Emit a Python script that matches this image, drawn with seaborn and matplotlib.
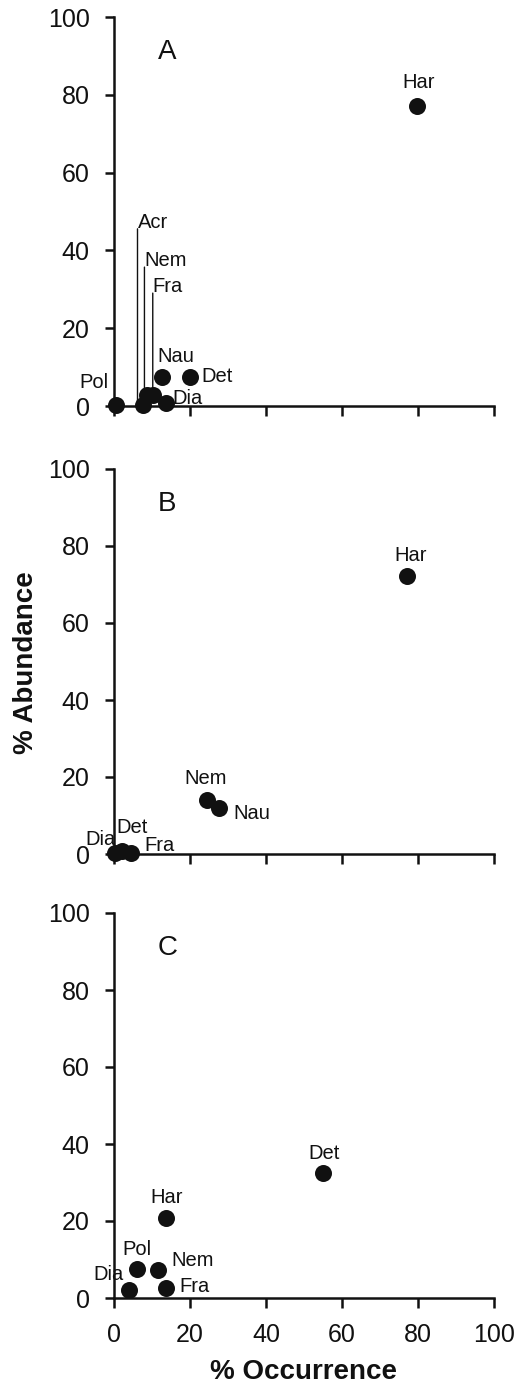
import matplotlib
matplotlib.use("Agg")
import matplotlib.pyplot as plt
from matplotlib.transforms import offset_copy
import seaborn as sns
import pandas as pd

# ---------------- data ----------------
A_labels = ["Har", "Pol", "Acr", "Nem", "Fra", "Nau", "Det", "Dia"]
A_occ = [79.7, 0.5, 7.5, 8.8, 10.2, 12.7, 20.0, 13.7]
A_abd = [77.0, 0.2, 0.3, 2.8, 2.8, 7.5, 7.5, 0.8]

B_labels = ["Har", "Nem", "Nau", "Dia", "Det", "Fra"]
B_occ = [77.2, 24.4, 27.5, 0.3, 2.0, 4.5]
B_abd = [72.1, 13.9, 11.9, 0.2, 0.8, 0.2]

C_labels = ["Det", "Har", "Pol", "Nem", "Dia", "Fra"]
C_occ = [54.9, 13.7, 6.0, 11.7, 3.9, 13.7]
C_abd = [32.4, 20.9, 7.6, 7.4, 2.0, 2.6]

panel_names = ["A", "B", "C"]
ticks = [0, 20, 40, 60, 80, 100]

# ---------------- label placement (styles, pixels) ----------------
# (dx, dy, ha, va, leader_line)
A_place = {
    "Har": (2, 18, "center", "baseline", False),
    "Pol": (-7, 17, "right", "baseline", False),
    "Acr": (-5, 177, "left", "baseline", True),
    "Nem": (-3, 129, "left", "baseline", True),
    "Fra": (0, 103, "left", "baseline", True),
    "Nau": (-5, 15, "left", "baseline", False),
    "Det": (11, 2, "left", "center_baseline", False),
    "Dia": (6, 6, "left", "center_baseline", False),
}
B_place = {
    "Har": (3, 15, "center", "baseline", False),
    "Nem": (-1, 16, "center", "baseline", False),
    "Nau": (15, -3, "left", "center_baseline", False),
    "Dia": (0, 16, "right", "center_baseline", False),
    "Det": (-5, 25, "left", "center_baseline", False),
    "Fra": (13, 10, "left", "center_baseline", False),
}
C_place = {
    "Det": (1, 14, "center", "baseline", False),
    "Har": (1, 15, "center", "baseline", False),
    "Pol": (0, 14, "center", "baseline", False),
    "Nem": (13, 11, "left", "center_baseline", False),
    "Dia": (-5, 18, "right", "center_baseline", False),
    "Fra": (13, 3, "left", "center_baseline", False),
}

sns.set_style("ticks")
plt.rcParams["font.family"] = ["Liberation Sans", "DejaVu Sans"]

W, H = 529, 1384
fig = plt.figure(figsize=(W / 100, H / 100), dpi=100)

# axes boxes in pixels: (left, top, right, bottom)
boxes = [(114, 17, 494, 406), (114, 469, 494, 854), (114, 913, 494, 1298)]

panels = [
    (A_labels, A_occ, A_abd, A_place),
    (B_labels, B_occ, B_abd, B_place),
    (C_labels, C_occ, C_abd, C_place),
]

for i, ((labs, occ, abd, place), (l, t, r, b)) in enumerate(zip(panels, boxes)):
    ax = fig.add_axes([l / W, 1 - b / H, (r - l) / W, (b - t) / H])
    df = pd.DataFrame({"occ": occ, "abd": abd, "lab": labs})
    sns.scatterplot(data=df, x="occ", y="abd", ax=ax, s=150, color="#111111",
                    edgecolor="#111111", linewidth=0, clip_on=False, zorder=5,
                    legend=False)
    ax.set_xlim(0, 100)
    ax.set_ylim(0, 100)
    ax.set_xticks(ticks)
    ax.set_yticks(ticks)
    for sp in ["top", "right"]:
        ax.spines[sp].set_visible(False)
    for sp in ["left", "bottom"]:
        ax.spines[sp].set_linewidth(1.8)
        ax.spines[sp].set_color("#111111")
    ax.tick_params(axis="y", direction="out", length=6.5, width=1.8,
                   labelsize=18, pad=11, colors="#111111")
    ax.tick_params(axis="x", direction="out", length=7, width=1.8,
                   labelsize=18, pad=11, colors="#111111")
    if i < 2:
        ax.set_xticklabels([])
    ax.set_xlabel("")
    ax.set_ylabel("")

    for lab, x, y in zip(labs, occ, abd):
        dx, dy, ha, va, lead = place[lab]
        ax.annotate(lab, xy=(x, y), xytext=(dx, dy), textcoords="offset pixels",
                    ha=ha, va=va, fontsize=14.5, color="#111111",
                    annotation_clip=False, zorder=6)
        if lead:
            top = offset_copy(ax.transData, fig=fig, x=dx, y=dy - 1, units="dots")
            bot = offset_copy(ax.transData, fig=fig, x=dx, y=4, units="dots")
            ax.annotate("", xy=(x, y), xycoords=bot, xytext=(x, y),
                        textcoords=top, annotation_clip=False, zorder=4,
                        arrowprops=dict(arrowstyle="-", color="#111111",
                                        lw=1.0, shrinkA=0, shrinkB=0))

    ax.text(0.14, 0.91, panel_names[i], transform=ax.transAxes,
            ha="center", va="center", fontsize=20, color="#111111")

fig.text(26 / W, 1 - 663 / H, "% Abundance", rotation=90, ha="center",
         va="center", fontsize=20, fontweight="bold", color="#111111")
fig.text(304 / W, 1 - 1372 / H, "% Occurrence", ha="center", va="center",
         fontsize=20, fontweight="bold", color="#111111")

fig.savefig("out.png", dpi=100, facecolor="white")
